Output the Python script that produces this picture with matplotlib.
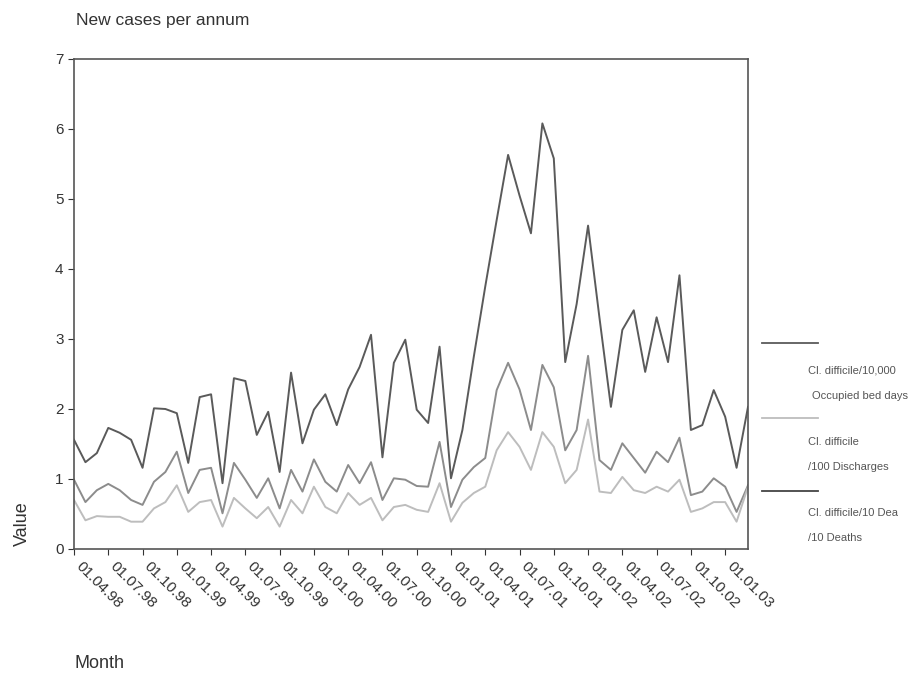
import matplotlib
matplotlib.use("Agg")
from matplotlib import pyplot as plt
from matplotlib.lines import Line2D
from matplotlib.transforms import ScaledTranslation

plt.rcParams['font.family'] = ['Liberation Sans', 'DejaVu Sans']

# Monthly rates, April 1998 .. March 2003
months = list(range(60))
tick_labels = ['01.04.98', '01.07.98', '01.10.98', '01.01.99', '01.04.99', '01.07.99', '01.10.99',
               '01.01.00', '01.04.00', '01.07.00', '01.10.00', '01.01.01', '01.04.01', '01.07.01',
               '01.10.01', '01.01.02', '01.04.02', '01.07.02', '01.10.02', '01.01.03']

per_bed_days = [1.56, 1.24, 1.37, 1.73, 1.66, 1.56, 1.16, 2.01, 2.00, 1.94,
                1.23, 2.17, 2.21, 0.94, 2.44, 2.40, 1.63, 1.96, 1.10, 2.52,
                1.51, 1.99, 2.21, 1.77, 2.28, 2.60, 3.06, 1.31, 2.66, 2.99,
                1.99, 1.80, 2.89, 1.01, 1.70, 2.75, 3.75, 4.70, 5.63, 5.05,
                4.51, 6.08, 5.58, 2.67, 3.50, 4.62, 3.30, 2.03, 3.13, 3.41,
                2.53, 3.31, 2.67, 3.91, 1.70, 1.77, 2.27, 1.89, 1.16, 2.03]

per_discharges = [0.99, 0.67, 0.84, 0.93, 0.84, 0.70, 0.63, 0.96, 1.10, 1.39,
                  0.80, 1.13, 1.16, 0.51, 1.23, 0.99, 0.73, 1.01, 0.58, 1.13,
                  0.82, 1.28, 0.96, 0.82, 1.20, 0.94, 1.24, 0.70, 1.01, 0.99,
                  0.90, 0.89, 1.53, 0.60, 0.99, 1.17, 1.30, 2.27, 2.66, 2.28,
                  1.70, 2.63, 2.31, 1.41, 1.70, 2.76, 1.27, 1.13, 1.51, 1.30,
                  1.09, 1.39, 1.24, 1.59, 0.77, 0.82, 1.01, 0.89, 0.53, 0.91]

per_deaths = [0.70, 0.41, 0.47, 0.46, 0.46, 0.39, 0.39, 0.58, 0.67, 0.91,
              0.53, 0.67, 0.70, 0.32, 0.73, 0.58, 0.44, 0.60, 0.32, 0.70,
              0.51, 0.89, 0.60, 0.51, 0.80, 0.63, 0.73, 0.41, 0.60, 0.63,
              0.56, 0.53, 0.94, 0.39, 0.66, 0.80, 0.89, 1.41, 1.67, 1.46,
              1.13, 1.67, 1.46, 0.94, 1.13, 1.85, 0.82, 0.80, 1.03, 0.84,
              0.80, 0.89, 0.82, 0.99, 0.53, 0.58, 0.67, 0.67, 0.39, 0.89]

W, H = 924, 673
fig = plt.figure(figsize=(W / 100, H / 100), dpi=100)
ax = fig.add_axes([74 / W, 1 - 549 / H, 674 / W, 490 / H])

ax.plot(months, per_bed_days, color='#5a5a5a', lw=1.4)
ax.plot(months, per_discharges, color='#8c8c8c', lw=1.4)
ax.plot(months, per_deaths, color='#bdbdbd', lw=1.4)

ax.set_xlim(0, 59)
ax.set_ylim(0, 7)
ax.set_yticks(range(8))
ax.set_xticks(months[::3])
ax.set_xticklabels(tick_labels, rotation=-45, ha='left', va='top', rotation_mode='anchor')
ax.tick_params(axis='x', labelsize=11, length=4, direction='out', colors='#333333', pad=3)
ax.tick_params(axis='y', labelsize=11, length=4, direction='out', colors='#333333')
# nudge the slanted date labels to start just right of their ticks
shift = ScaledTranslation(9 / 100, 0, fig.dpi_scale_trans)
for lab in ax.get_xticklabels():
    lab.set_transform(lab.get_transform() + shift)
for sp in ax.spines.values():
    sp.set_color('#555555')
    sp.set_linewidth(1.2)

# labels placed in figure pixels
def px(x, y):
    return x / W, 1 - y / H

fig.text(*px(76, 20), 'New cases per annum', fontsize=12.5, color='#333333', va='center')
fig.text(*px(22, 524), 'Value', fontsize=13, color='#333333', rotation=90, ha='center', va='center')
fig.text(*px(75, 664), 'Month', fontsize=13, color='#333333', va='center')

# hand-built key to the right of the plot
key_lines = [(343, '#5a5a5a'), (418, '#bdbdbd'), (491, '#444444')]
for y, c in key_lines:
    x0, yy = px(762, y)
    x1, _ = px(818, y)
    fig.add_artist(Line2D([x0, x1], [yy, yy], color=c, lw=1.3, transform=fig.transFigure))

key_text = [(808, 370, 'Cl. difficile/10,000'), (812, 396, 'Occupied bed days'),
            (808, 442, 'Cl. difficile'), (808, 467, '/100 Discharges'),
            (808, 513, 'Cl. difficile/10 Dea'), (808, 538, '/10 Deaths')]
for x, y, s in key_text:
    fig.text(*px(x, y), s, fontsize=8, color='#555555', va='center')

fig.savefig('out.png', dpi=100)
